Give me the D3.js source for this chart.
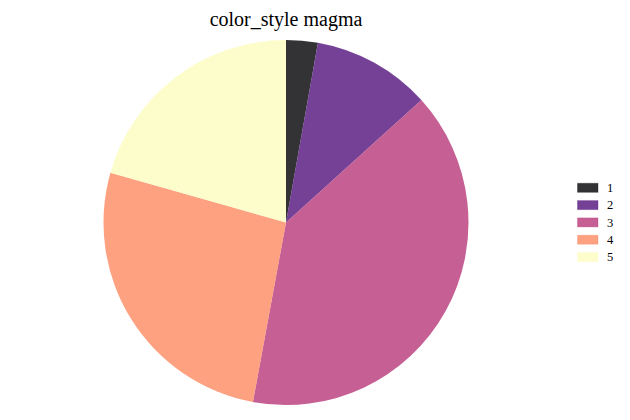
<!DOCTYPE html>
<html><head><meta charset="utf-8">
<script src="https://cdn.jsdelivr.net/npm/d3@7"></script>
<style>body{margin:0;background:#fff}svg{display:block}</style>
</head><body><svg id="c" width="630" height="420"></svg>
<script>
const title = "color_style magma";
const categories = ["1","2","3","4","5"];
const values = [2.8, 10.5, 39.6, 26.5, 20.6];

const FONT = "Liberation Serif";
const svg = d3.select("#c");
const cx = 286, cy = 222.5, r = 182.5;
const color = d3.scaleOrdinal().domain(categories)
  .range(categories.map((d,i)=>d3.interpolateMagma(i/(categories.length-1))));

svg.append("text").attr("x", 286).attr("y", 25.8).attr("text-anchor","middle")
  .style("font-family",FONT).style("font-size","20px").attr("fill","#000").text(title);

const data = categories.map((c,i)=>({c, v: values[i]}));
const pie = d3.pie().value(d=>d.v).sort(null);
const arc = d3.arc().innerRadius(0).outerRadius(r);
svg.append("g").attr("transform",`translate(${cx},${cy})`)
  .selectAll("path").data(pie(data)).join("path")
  .attr("d", arc).attr("fill", d=>color(d.data.c)).attr("fill-opacity",0.8);

const y0 = 183.3, step = 17.3;
const lg = svg.append("g");
const item = lg.selectAll("g").data(categories).join("g")
  .attr("transform",(d,i)=>`translate(577.5,${y0 + i*step})`);
item.append("rect").attr("width",20.5).attr("height",9)
  .attr("fill", d=>color(d)).attr("fill-opacity",0.8)
  .attr("stroke", d=>color(d)).attr("stroke-opacity",0.3).attr("stroke-width",1);
item.append("text").attr("x",29.5).attr("y",8.8)
  .style("font-family",FONT).style("font-size","12.5px").attr("fill","#000").text(d=>d);
</script></body></html>
